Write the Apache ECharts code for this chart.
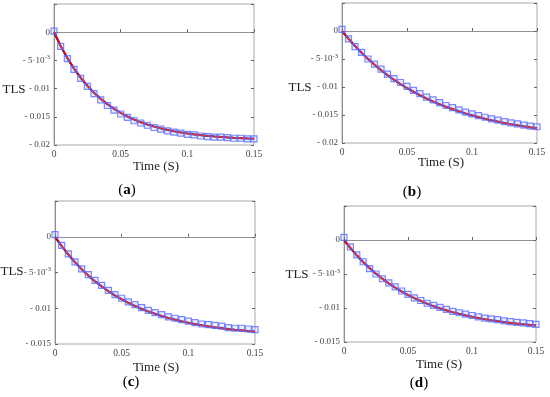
<!DOCTYPE html>
<html><head><meta charset="utf-8">
<script src="https://cdn.jsdelivr.net/npm/echarts@6/dist/echarts.min.js"></script>
<style>html,body{margin:0;padding:0;background:#fff;}#c{width:550px;height:397px;}</style>
</head><body><div id="c"></div>
<script>
var time = [0,0.005,0.01,0.015,0.02,0.025,0.03,0.035,0.04,0.045,0.05,0.055,0.06,0.065,0.07,0.075,0.08,0.085,0.09,0.095,0.1,0.105,0.11,0.115,0.12,0.125,0.13,0.135,0.14,0.145,0.15];
var lineA = [0,-0.00245,-0.00459,-0.00646,-0.00808,-0.00950,-0.01074,-0.01182,-0.01276,-0.01359,-0.01430,-0.01493,-0.01547,-0.01595,-0.01636,-0.01673,-0.01704,-0.01732,-0.01756,-0.01777,-0.01795,-0.01811,-0.01825,-0.01837,-0.01848,-0.01857,-0.01865,-0.01872,-0.01878,-0.01884,-0.01888];
var sqA = [0.0002,-0.0025,-0.0047,-0.0066,-0.0082,-0.0096,-0.0109,-0.0120,-0.0130,-0.0138,-0.0145,-0.0151,-0.0157,-0.0161,-0.0165,-0.0169,-0.0172,-0.0175,-0.0177,-0.0179,-0.0181,-0.0182,-0.0184,-0.0185,-0.0186,-0.0186,-0.0187,-0.0188,-0.0188,-0.0189,-0.0189];
var lineB = [0,-0.00139,-0.00268,-0.00388,-0.00499,-0.00603,-0.00699,-0.00788,-0.00871,-0.00948,-0.01019,-0.01086,-0.01147,-0.01205,-0.01258,-0.01307,-0.01353,-0.01395,-0.01435,-0.01472,-0.01506,-0.01537,-0.01567,-0.01594,-0.01619,-0.01643,-0.01665,-0.01685,-0.01704,-0.01722,-0.01738];
var sqB = [0.0003,-0.0014,-0.0028,-0.0038,-0.0050,-0.0059,-0.0068,-0.0077,-0.0085,-0.0092,-0.0099,-0.0106,-0.0112,-0.0118,-0.0123,-0.0128,-0.0133,-0.0137,-0.0141,-0.0145,-0.0148,-0.0151,-0.0154,-0.0157,-0.0159,-0.0162,-0.0164,-0.0166,-0.0168,-0.0170,-0.0171];
var lineC = [0,-0.00131,-0.00249,-0.00357,-0.00454,-0.00543,-0.00623,-0.00695,-0.00761,-0.00821,-0.00875,-0.00924,-0.00968,-0.01009,-0.01045,-0.01078,-0.01108,-0.01136,-0.01160,-0.01183,-0.01203,-0.01221,-0.01238,-0.01253,-0.01267,-0.01279,-0.01291,-0.01301,-0.01310,-0.01319,-0.01326];
var sqC = [0.0003,-0.0012,-0.0024,-0.0035,-0.0045,-0.0053,-0.0061,-0.0068,-0.0075,-0.0081,-0.0086,-0.0091,-0.0095,-0.0099,-0.0103,-0.0106,-0.0109,-0.0112,-0.0114,-0.0116,-0.0118,-0.0120,-0.0122,-0.0123,-0.0124,-0.0125,-0.0127,-0.0128,-0.0128,-0.0129,-0.0130];
var lineD = [0,-0.00118,-0.00226,-0.00325,-0.00414,-0.00496,-0.00570,-0.00638,-0.00700,-0.00757,-0.00808,-0.00855,-0.00898,-0.00937,-0.00973,-0.01005,-0.01035,-0.01062,-0.01086,-0.01109,-0.01129,-0.01148,-0.01165,-0.01180,-0.01194,-0.01207,-0.01219,-0.01230,-0.01239,-0.01248,-0.01256];
var sqD = [0.0004,-0.0010,-0.0022,-0.0032,-0.0042,-0.0050,-0.0057,-0.0063,-0.0069,-0.0075,-0.0080,-0.0085,-0.0089,-0.0093,-0.0096,-0.0099,-0.0102,-0.0105,-0.0107,-0.0109,-0.0111,-0.0113,-0.0115,-0.0116,-0.0117,-0.0119,-0.0120,-0.0121,-0.0122,-0.0123,-0.0124];
var xTicks = ['0','0.05','0.1','0.15'];
var panelNames = ['a','b','c','d'];
var yLabel = 'TLS';
var xLabel = 'Time (S)';

var FONT = 'Liberation Serif, Times New Roman, serif';
var grids = [
  {left:54, top:4, width:200, height:141},
  {left:342, top:3, width:195, height:140},
  {left:55, top:201, width:200, height:143},
  {left:344, top:206, width:192, height:136}
];
var yMins = [-0.02,-0.02,-0.015,-0.015];
var lines = [lineA, lineB, lineC, lineD];
var squares = [sqA, sqB, sqC, sqD];

function yFmt(v){
  if (v > 0.001) return '';
  if (Math.abs(v) < 1e-9) return '{n|0}';
  if (Math.abs(v + 0.005) < 1e-9) return '{n|- 5·10}{s|-3}';
  var s = (Math.round(-v*1000)/1000).toString();
  return '{n|- ' + s + '}';
}
var pairs = function(xs, ys){ return xs.map(function(x,i){return [x, ys[i]];}); };

var option = {backgroundColor:'#fff', animation:false, grid:[], xAxis:[], yAxis:[], series:[], graphic:[]};
for (var i=0;i<4;i++){
  var g = grids[i];
  option.grid.push({left:g.left, top:g.top, width:g.width, height:g.height, show:true, borderColor:'#a8a8a8', borderWidth:1, backgroundColor:'transparent'});
  option.xAxis.push({type:'value', gridIndex:i, min:0, max:0.15, interval:0.05,
    axisLine:{show:true, lineStyle:{color:'#909090'}},
    axisTick:{show:true, inside:true, length:3, lineStyle:{color:'#666'}},
    splitLine:{show:false},
    axisLabel:{color:'#444', fontFamily:FONT, fontSize:9.5, margin:4,
      formatter:function(v){ var k=Math.round(v/0.05); return xTicks[k]; }}
  });
  option.yAxis.push({type:'value', gridIndex:i, min:yMins[i], max:0.005, interval:0.005,
    axisLine:{show:true, lineStyle:{color:'#909090'}},
    axisTick:{show:true, inside:true, length:3, lineStyle:{color:'#666'}},
    splitLine:{show:false},
    axisLabel:{color:'#444', fontFamily:FONT, fontSize:9, margin:4, formatter:yFmt,
      rich:{n:{fontFamily:FONT, fontSize:9, color:'#444'}, s:{fontFamily:FONT, fontSize:6.5, color:'#444', verticalAlign:'bottom', padding:[0,0,6,0]}}}
  });
  option.yAxis.push({type:'value', gridIndex:i, position:'right', min:yMins[i], max:0.005, interval:0.005,
    axisLine:{show:false}, axisLabel:{show:false}, splitLine:{show:false},
    axisTick:{show:true, inside:true, length:3, lineStyle:{color:'#666'}}
  });
  option.series.push({type:'line', xAxisIndex:i, yAxisIndex:2*i, data:pairs(time, lines[i]), showSymbol:false, symbol:'none',
    lineStyle:{color:'#202080', width:2.2}, z:2});
  option.series.push({type:'line', xAxisIndex:i, yAxisIndex:2*i, data:pairs(time, lines[i]), showSymbol:false, symbol:'none',
    lineStyle:{color:'#f00000', width:1.6}, z:3});
  option.series.push({type:'scatter', xAxisIndex:i, yAxisIndex:2*i, data:pairs(time, squares[i]), symbol:'rect', symbolSize:6,
    itemStyle:{color:'rgba(170,180,255,0.3)', borderColor:'#5a6bff', borderWidth:1.2}, z:4});
}
var tlsPos = [[14,90],[300,88],[12,272],[297,275]];
var timePos = [[156,167],[441,163],[156,368],[439,365]];
var labPos = [[127,190],[412,192],[131,382],[419,383]];
for (var j=0;j<4;j++){
  option.graphic.push({type:'text', x:tlsPos[j][0], y:tlsPos[j][1], style:{text:yLabel, font:'13px ' + FONT, fill:'#222', align:'center', verticalAlign:'middle'}});
  option.graphic.push({type:'text', x:timePos[j][0], y:timePos[j][1], style:{text:xLabel, font:'13px ' + FONT, fill:'#222', align:'center', verticalAlign:'middle'}});
  option.graphic.push({type:'text', x:labPos[j][0], y:labPos[j][1], style:{text:'{p|(}{b|'+panelNames[j]+'}{p|)}', align:'center', verticalAlign:'middle',
    rich:{p:{fontFamily:FONT, fontSize:15, color:'#111'}, b:{fontFamily:FONT, fontWeight:'bold', fontSize:15, color:'#111'}}}});
}
var chart = echarts.init(document.getElementById('c'), null, {renderer:'canvas'});
chart.setOption(option);
</script></body></html>
